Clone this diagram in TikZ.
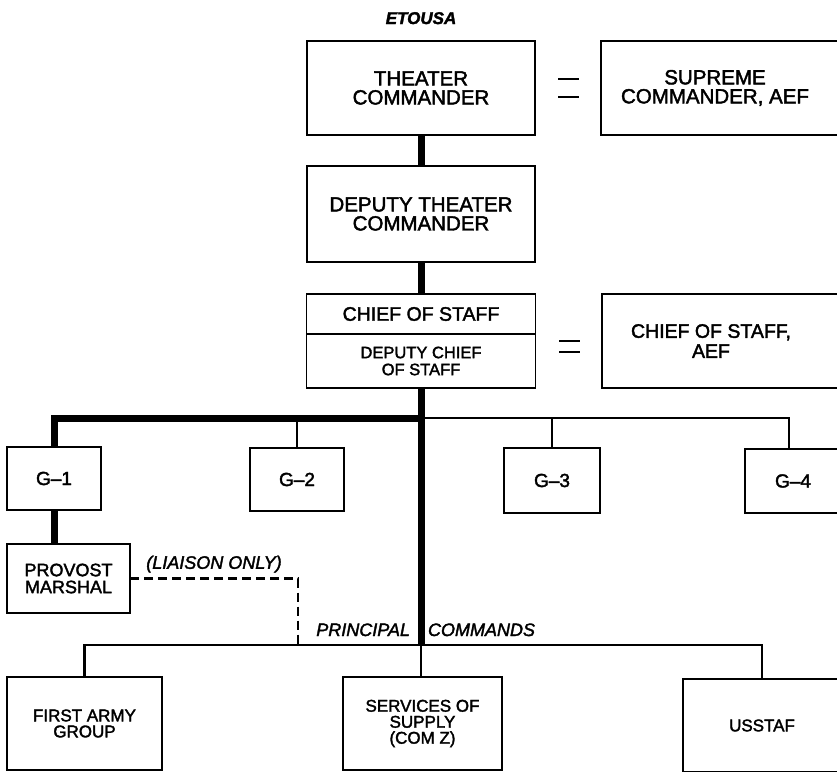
\documentclass[tikz,border=0pt]{standalone}
\usepackage{fontspec}
\setmainfont{Liberation Sans}[FakeBold=2]
\begin{document}
\begin{tikzpicture}[x=1pt,y=-1pt,inner sep=0pt,outer sep=0pt,
orgblock/.style={draw,rectangle,line width=1.8pt,align=center,font=\fontsize{20.5}{19}\selectfont},
gblock/.style={orgblock,minimum width=94pt,minimum height=63pt,font=\fontsize{19}{19}\selectfont},
lowblock/.style={orgblock,minimum height=93pt,font=\fontsize{17}{16}\selectfont},
heavy/.style={line width=7pt},
light/.style={line width=2.8pt},
liaison/.style={line width=2.8pt,dash pattern=on 9pt off 5pt},
eqmark/.style={line width=2pt},
note/.style={font=\fontsize{18}{18}\selectfont\itshape}]
\useasboundingbox (0,0) rectangle (837,771);
\draw (421,88) node[orgblock,minimum width=228pt,minimum height=94pt] (theater) {THEATER\\COMMANDER};
\draw (723,88) node[orgblock,minimum width=244pt,minimum height=94pt] (supreme) {};
\draw (715,88) node[align=center,font=\fontsize{20.5}{19}\selectfont] (supremetext) {SUPREME\\COMMANDER, AEF};
\draw (421,214) node[orgblock,minimum width=228pt,minimum height=96pt] (deputy) {DEPUTY THEATER\\COMMANDER};
\draw (421,314) node[orgblock,minimum width=229pt,minimum height=40pt,font=\fontsize{19.5}{19}\selectfont] (chief) {CHIEF OF STAFF};
\draw (421,361) node[orgblock,minimum width=229pt,minimum height=54pt,font=\fontsize{16.5}{17}\selectfont] (depchief) {DEPUTY CHIEF\\OF STAFF};
\draw (723.5,341) node[orgblock,minimum width=243pt,minimum height=94pt] (chiefaef) {};
\draw (711,341) node[align=center,font=\fontsize{19.5}{20}\selectfont] (chiefaeftext) {CHIEF OF STAFF,\\AEF};
\draw (54,478.5) node[gblock] (G1) {G--1};
\draw (297,479.5) node[gblock] (G2) {G--2};
\draw (552,480.5) node[gblock,minimum width=96pt,minimum height=65pt] (G3) {G--3};
\draw (793,481) node[gblock,minimum width=96pt,minimum height=64pt] (G4) {G--4};
\draw (68.5,578.5) node[orgblock,minimum width=123pt,minimum height=69pt,font=\fontsize{18}{17}\selectfont] (provost) {PROVOST\\MARSHAL};
\draw (84.5,723.5) node[lowblock,minimum width=155pt] (firstarmy) {FIRST ARMY\\GROUP};
\draw (422.5,723.5) node[lowblock,minimum width=159pt] (services) {SERVICES OF\\SUPPLY\\(COM Z)};
\draw (762,725.5) node[lowblock,minimum width=158pt] (usstaf) {USSTAF};
\coordinate (gbus) at (421,418);
\coordinate (pbus) at (421,645);
\coordinate (liaisonend) at (298,645);
\draw (theater.north) ++(0,-17) node[note,anchor=base,font=\fontsize{17}{17}\selectfont\bfseries\itshape] (etousa) {ETOUSA};
\draw[heavy] (theater.south) -- (deputy.north);
\draw[heavy] (deputy.south) -- (chief.north);
\draw[heavy] (depchief.south) -- (pbus);
\draw[heavy] (gbus) -| (G1.north);
\draw[heavy] (G1.south) -- (G1.south |- provost.north);
\draw[light] (gbus) -| ([xshift=-4pt]G4.north);
\draw[light] (gbus -| G2.north) -- (G2.north);
\draw[light] (gbus -| G3.north) -- (G3.north);
\draw[light] (firstarmy.north) |- (pbus) -| (usstaf.north);
\draw[light] (pbus) -- (pbus |- services.north);
\draw[liaison] (provost.east) -| (liaisonend) node[note,pos=0.25,above=6pt] (liaisontext) {(LIAISON ONLY)};
\draw (pbus) ++(-11,-9) node[note,anchor=base east] (principal) {PRINCIPAL};
\draw (pbus) ++(7,-9) node[note,anchor=base west] (commands) {COMMANDS};
\draw[eqmark] (theater.east) ++(23,-9) -- ++(21,0);
\draw[eqmark] (theater.east) ++(23,9) -- ++(21,0);
\draw[eqmark] (chiefaef.west) ++(-43,0) -- ++(21,0);
\draw[eqmark] (chiefaef.west) ++(-43,11) -- ++(21,0);
\end{tikzpicture}
\end{document}
